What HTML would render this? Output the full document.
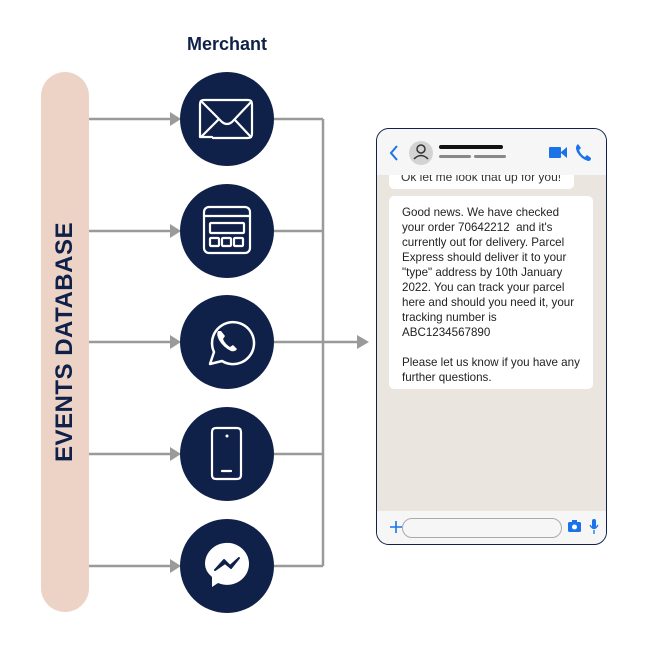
<!DOCTYPE html>
<html><head><style>
body{margin:0;width:650px;height:650px;background:#fff;position:relative;overflow:hidden;font-family:"Liberation Sans",sans-serif}
.abs{position:absolute}
</style></head><body>
<div class="abs" style="left:41px;top:72px;width:48px;height:540px;border-radius:24px;background:#ecd3c6"></div>
<div class="abs" style="left:65px;top:342px;transform:translate(-50%,-50%) rotate(-90deg);white-space:nowrap;font-weight:bold;font-size:24px;color:#0f2149;letter-spacing:0.5px">EVENTS DATABASE</div>
<div class="abs" style="left:227px;top:34px;transform:translateX(-50%);font-weight:bold;font-size:18px;color:#0f2149">Merchant</div>
<svg class="abs" style="left:0;top:0" width="650" height="650">
<g stroke="#9a9a9a" stroke-width="2.5" fill="none">
<path d="M89 119H172M89 231H172M89 342H172M89 454H172M89 566H172"/>
<path d="M274 119H323M274 231H323M274 342H358M274 454H323M274 566H323M323 119V566"/>
</g>
<g fill="#9a9a9a">
<path d="M170 112L181 119L170 126Z"/><path d="M170 224L181 231L170 238Z"/><path d="M170 335L181 342L170 349Z"/><path d="M170 447L181 454L170 461Z"/><path d="M170 559L181 566L170 573Z"/>
<path d="M357 335L369 342L357 349Z"/>
</g>
<g fill="#0f2149"><circle cx="227" cy="119" r="47"/><circle cx="227" cy="231" r="47"/><circle cx="227" cy="342" r="47"/><circle cx="227" cy="454" r="47"/><circle cx="227" cy="566" r="47"/></g>
<g stroke="#fff" stroke-width="2.2" fill="none" stroke-linecap="round" stroke-linejoin="round">
<path d="M212 137H200V104Q200 100 204 100H248Q252 100 252 104V134Q252 138 248 138H213"/>
<path d="M202 102L222 122Q227 126 232 122L251 102M202 136L219 119M250 136L235 120"/>
<rect x="204" y="207" width="46" height="46" rx="5"/><path d="M204 216H250"/>
<rect x="210" y="223" width="34" height="10" rx="1"/>
<rect x="210" y="238" width="9" height="8" rx="1"/><rect x="222" y="238" width="9" height="8" rx="1"/><rect x="234" y="238" width="9" height="8" rx="1"/>
<path d="M210 364L214 352A21 21 0 1 1 222 361Z" stroke-width="2.5"/>
<path d="M212 475V432Q212 428 216 428H237Q241 428 241 432V475Q241 479 237 479H216Q212 479 212 475Z"/>
<path d="M222 471H231"/>
</g>
<path d="M218 331Q216 334 219 340Q223 347 231 351Q235 352 237 349L233 345L230 347Q225 344 223 339L225 336L221 331Z" fill="#fff"/>
<circle cx="227" cy="436" r="1.5" fill="#fff"/>
<g transform="translate(227 564)"><path d="M-22 0A22 21 0 1 1 -9 19L-15 23V13Q-22 7 -22 0Z" fill="#fff"/>
<path d="M-12 6L-3 -4L3 2L12 -6L4 4L-2 -1Z" fill="#0f2149" stroke="#0f2149" stroke-width="2" stroke-linejoin="round"/></g>
</svg>
<div class="abs" style="left:376px;top:128px;width:229px;height:415px;border:1.5px solid #0f2149;border-radius:13px;overflow:hidden;background:#ebe5df">
<div class="abs" style="left:12px;top:24px;width:185px;height:36px;background:#fff;border-radius:5px;overflow:hidden"><div style="position:absolute;left:12px;top:17px;font-size:12px;color:#333">Ok let me look that up for you!</div></div>
<div class="abs" style="left:0;top:0;width:100%;height:46px;background:#f6f6f6"></div>
<svg class="abs" style="left:0;top:0" width="229" height="46">
<path d="M20 17L14 24L20 31" stroke="#1a73e8" stroke-width="2" fill="none"/>
<circle cx="44" cy="24" r="12" fill="#d3d3d3"/>
<circle cx="44" cy="20" r="4" stroke="#333" stroke-width="1.5" fill="none"/><path d="M37 30Q44 23 51 30" stroke="#333" stroke-width="1.5" fill="none"/>
<rect x="62" y="16" width="64" height="4" rx="2" fill="#111"/>
<rect x="62" y="26" width="32" height="3" rx="1.5" fill="#888"/><rect x="97" y="26" width="32" height="3" rx="1.5" fill="#888"/>
<rect x="172" y="18" width="12" height="11" rx="1" fill="#1a73e8"/><path d="M184 23L190 18V29L184 24Z" fill="#1a73e8"/>
<path d="M200 16Q198 18 200 23Q204 30 211 32Q214 32 214 29L210 26L208 28Q204 26 202 21L204 19L201 15Z" fill="#1a73e8"/>
</svg>
<div class="abs" style="left:12px;top:67px;width:204px;height:193px;background:#fff;border-radius:5px;box-sizing:border-box;padding:9px 0 0 13px;font-size:11.6px;line-height:15px;color:#222;white-space:nowrap">Good news. We have checked<br>your order 70642212&nbsp; and it's<br>currently out for delivery. Parcel<br>Express should deliver it to your<br>"type" address by 10th January<br>2022. You can track your parcel<br>here and should you need it, your<br>tracking number is<br>ABC1234567890<br><br>Please let us know if you have any<br>further questions.</div>
<div class="abs" style="left:0;top:382px;width:100%;height:40px;background:#f6f6f6"></div>
<div class="abs" style="left:25px;top:389px;width:158px;height:18px;border:1px solid #aaa;border-radius:10px;background:#f6f6f6"></div>
<svg class="abs" style="left:0;top:382px" width="229" height="40">
<path d="M13 16H25M19 10V22" stroke="#1a73e8" stroke-width="1.6"/>
<rect x="191" y="11" width="13" height="10" rx="1.5" fill="#1a73e8"/><rect x="195" y="9" width="5" height="3" fill="#1a73e8"/><circle cx="197.5" cy="16" r="2.5" fill="#fff"/>
<rect x="215" y="8" width="4" height="9" rx="2" fill="#1a73e8"/><path d="M213 14Q217 21 221 14M217 19V23" stroke="#1a73e8" stroke-width="1.3" fill="none"/>
</svg>
</div>
</body></html>
